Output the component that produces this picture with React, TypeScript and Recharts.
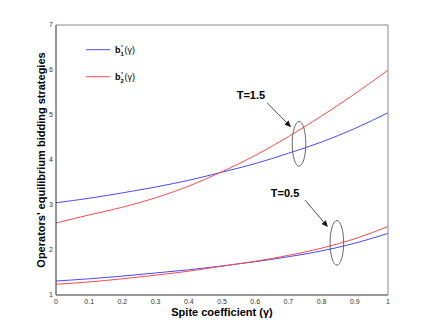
import React from 'react';
import { LineChart, Line, XAxis, YAxis, ReferenceDot, ReferenceLine, Legend } from 'recharts';

const gammas = [0, 0.1, 0.2, 0.3, 0.4, 0.5, 0.6, 0.7, 0.8, 0.9, 1.0];
const b1High = [3.05, 3.15, 3.27, 3.4, 3.55, 3.73, 3.92, 4.15, 4.4, 4.7, 5.05];
const b2High = [2.6, 2.78, 2.95, 3.16, 3.42, 3.74, 4.1, 4.52, 4.98, 5.47, 6.0];
const b1Low = [1.31, 1.36, 1.42, 1.49, 1.56, 1.645, 1.74, 1.85, 1.98, 2.15, 2.37];
const b2Low = [1.24, 1.29, 1.36, 1.44, 1.53, 1.64, 1.75, 1.88, 2.04, 2.25, 2.52];

const xTicks = [0, 0.1, 0.2, 0.3, 0.4, 0.5, 0.6, 0.7, 0.8, 0.9, 1];
const yTicks = [1, 2, 3, 4, 5, 6, 7];

const legendSubs = ['1', '2'];
const annotationLabels = ['T=1.5', 'T=0.5'];
const labelPos = [{ x: 0.587, y: 5.44 }, { x: 0.69, y: 3.27 }];
const arrowSegs = [
  [{ x: 0.636, y: 5.27 }, { x: 0.708, y: 4.73 }],
  [{ x: 0.75, y: 3.11 }, { x: 0.819, y: 2.51 }],
];
const ellipseCenters = [{ x: 0.732, y: 4.36 }, { x: 0.846, y: 2.16 }];

const data = gammas.map((g, i) => ({
  x: g,
  b1High: b1High[i],
  b2High: b2High[i],
  b1Low: b1Low[i],
  b2Low: b2Low[i],
}));

const BLUE = '#4a4aff';
const RED = '#ff4a4a';
const FONT = '"Liberation Sans", Arial, Helvetica, sans-serif';

const fmt = (v: number) => (v === 0 ? '0' : v === 1 ? '1' : String(v));

const ArrowShape = (props: any) => {
  const { x1, y1, x2, y2 } = props;
  if ([x1, y1, x2, y2].some((v) => typeof v !== 'number' || isNaN(v))) return null;
  const ang = Math.atan2(y2 - y1, x2 - x1);
  const L = 6.5;
  const W = 2.8;
  const bx = x2 - L * Math.cos(ang);
  const by = y2 - L * Math.sin(ang);
  const px = -Math.sin(ang) * W;
  const py = Math.cos(ang) * W;
  return (
    <g>
      <line x1={x1} y1={y1} x2={bx} y2={by} stroke="#222" strokeWidth={0.8} />
      <polygon points={`${x2},${y2} ${bx + px},${by + py} ${bx - px},${by - py}`} fill="#111" />
    </g>
  );
};

const LegendContent = () => (
  <svg width={90} height={50} style={{ fontFamily: FONT, display: 'block' }}>
    {[BLUE, RED].map((c, i) => {
      const y = 9.7 + i * 27;
      return (
        <g key={i}>
          <line x1={0} y1={y} x2={24} y2={y} stroke={c} strokeWidth={1} />
          <text x={29} y={y + 3.6} fontSize={9} fontWeight="bold" fill="#000">b</text>
          <text x={34.6} y={y + 6.6} fontSize={6} fontWeight="bold" fill="#000">{legendSubs[i]}</text>
          <text x={34.9} y={y - 0.6} fontSize={5.5} fill="#000">*</text>
          <text x={38.6} y={y + 3.6} fontSize={9} fill="#000">(γ)</text>
        </g>
      );
    })}
  </svg>
);

export default function App() {
  return (
    <div style={{ position: 'absolute', left: 0, top: 0, background: '#fff' }}>
      <LineChart
        width={429}
        height={332}
        data={data}
        margin={{ top: 25, right: 41, left: 26, bottom: 3 }}
        style={{ fontFamily: FONT }}
      >
        <XAxis
          xAxisId="b"
          dataKey="x"
          type="number"
          domain={[0, 1]}
          ticks={xTicks}
          tickFormatter={fmt}
          tickLine={false}
          tickSize={2}
          tickMargin={2}
          height={34}
          axisLine={{ stroke: '#333', strokeWidth: 1 }}
          tick={{ fontSize: 7, fill: '#333' }}
          label={{ value: 'Spite coefficient (γ)', position: 'center', fontSize: 11, fontWeight: 'bold', fill: '#000' }}
        />
        <XAxis
          xAxisId="bm"
          dataKey="x"
          type="number"
          domain={[0, 1]}
          ticks={xTicks}
          mirror
          tick={false}
          tickSize={3}
          axisLine={false}
          tickLine={{ stroke: '#666' }}
        />
        <XAxis
          xAxisId="t"
          orientation="top"
          dataKey="x"
          type="number"
          domain={[0, 1]}
          ticks={xTicks}
          mirror
          tick={false}
          tickSize={3}
          axisLine={{ stroke: '#888' }}
          tickLine={{ stroke: '#888' }}
        />
        <YAxis
          yAxisId="l"
          type="number"
          domain={[1, 7]}
          ticks={yTicks}
          tickLine={false}
          tickSize={1}
          tickMargin={2}
          width={30}
          axisLine={{ stroke: '#333', strokeWidth: 1 }}
          tick={{ fontSize: 7, fill: '#333' }}
          label={{ value: "Operators' equilibrium bidding strategies", angle: -90, position: 'center', fontSize: 11, fontWeight: 'bold', fill: '#000' }}
        />
        <YAxis
          yAxisId="lm"
          type="number"
          domain={[1, 7]}
          ticks={yTicks}
          mirror
          tick={false}
          tickSize={3}
          axisLine={false}
          tickLine={{ stroke: '#666' }}
        />
        <YAxis
          yAxisId="r"
          orientation="right"
          type="number"
          domain={[1, 7]}
          ticks={yTicks}
          mirror
          tick={false}
          tickSize={3}
          axisLine={{ stroke: '#888' }}
          tickLine={{ stroke: '#888' }}
        />
        <Legend
          layout="horizontal"
          verticalAlign="middle"
          align="center"
          content={<LegendContent />}
          wrapperStyle={{ position: 'absolute', left: 86, top: 40, width: 90, height: 50 }}
        />
        <Line xAxisId="b" yAxisId="l" type="monotone" dataKey="b1High" stroke={BLUE} strokeWidth={1} dot={false} isAnimationActive={false} />
        <Line xAxisId="b" yAxisId="l" type="monotone" dataKey="b2High" stroke={RED} strokeWidth={1} dot={false} isAnimationActive={false} />
        <Line xAxisId="b" yAxisId="l" type="monotone" dataKey="b1Low" stroke={BLUE} strokeWidth={1} dot={false} isAnimationActive={false} />
        <Line xAxisId="b" yAxisId="l" type="monotone" dataKey="b2Low" stroke={RED} strokeWidth={1} dot={false} isAnimationActive={false} />
        {ellipseCenters.map((c, i) => (
          <ReferenceDot
            key={'e' + i}
            xAxisId="b"
            yAxisId="l"
            x={c.x}
            y={c.y}
            r={1}
            shape={(p: any) => (
              <ellipse cx={p.cx} cy={p.cy} rx={6.8} ry={22.3} fill="none" stroke="#555" strokeWidth={0.9} />
            )}
          />
        ))}
        {arrowSegs.map((s, i) => (
          <ReferenceLine key={'a' + i} xAxisId="b" yAxisId="l" segment={s} shape={ArrowShape} />
        ))}
        {labelPos.map((p, i) => (
          <ReferenceDot
            key={'t' + i}
            xAxisId="b"
            yAxisId="l"
            x={p.x}
            y={p.y}
            r={1}
            shape={(q: any) => (
              <text x={q.cx} y={q.cy} dy={4} textAnchor="middle" fontSize={11} fontWeight="bold" fill="#000" fontFamily={FONT}>
                {annotationLabels[i]}
              </text>
            )}
          />
        ))}
      </LineChart>
    </div>
  );
}
